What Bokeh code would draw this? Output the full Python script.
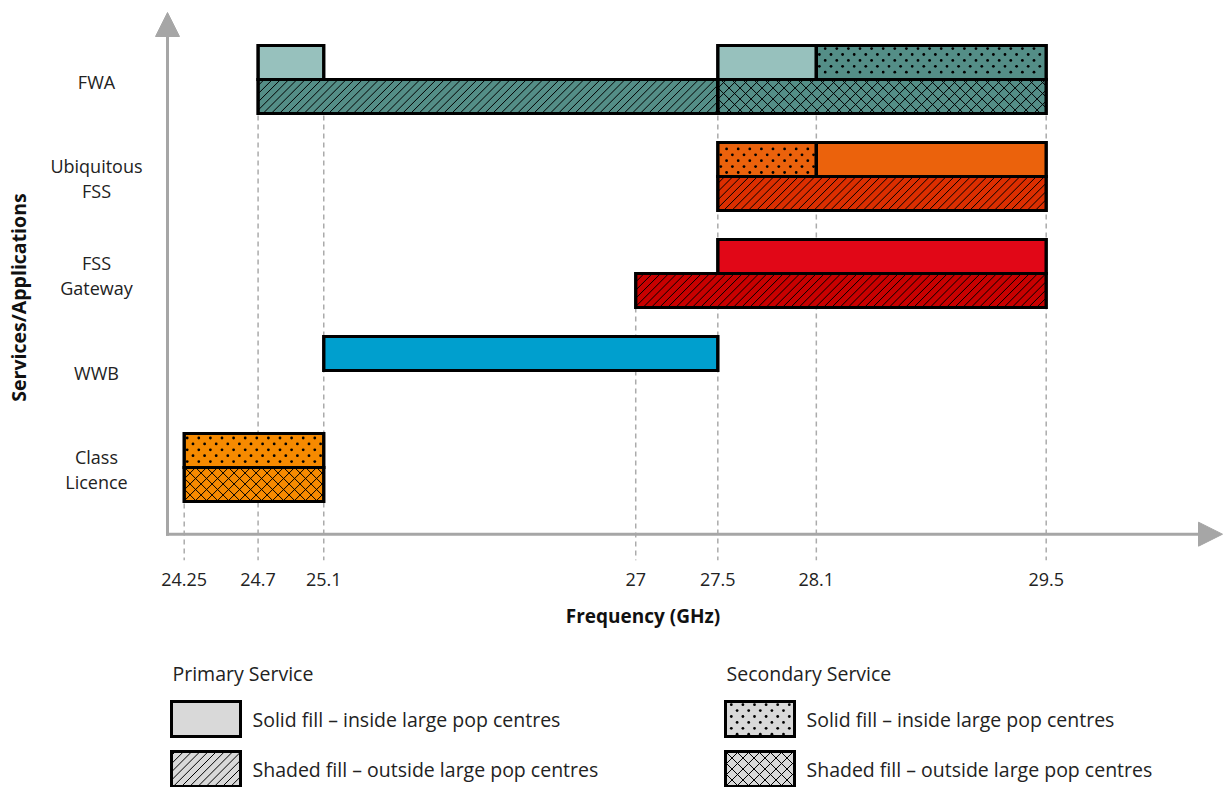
import math
from bokeh.plotting import figure
from bokeh.models import (Range1d, FixedTicker, CustomJSTickFormatter, Arrow, NormalHead,
                          ColumnDataSource)
from bokeh.layouts import column
from bokeh.embed import file_html
from bokeh.resources import INLINE
from bokeh.core.properties import value

# ---------------- data ----------------
services = ["Class\nLicence", "WWB", "FSS\nGateway", "Ubiquitous\nFSS", "FWA"]  # bottom -> top
freq_ticks = [24.25, 24.7, 25.1, 27, 27.5, 28.1, 29.5]

bar_service = ["FWA", "FWA", "FWA", "FWA", "FWA",
               "Ubiquitous\nFSS", "Ubiquitous\nFSS", "Ubiquitous\nFSS",
               "FSS\nGateway", "FSS\nGateway",
               "WWB",
               "Class\nLicence", "Class\nLicence"]
bar_start = [24.7, 27.5, 28.1, 24.7, 27.5,
             27.5, 28.1, 27.5,
             27.5, 27.0,
             25.1,
             24.25, 24.25]
bar_end = [25.1, 28.1, 29.5, 27.5, 29.5,
           28.1, 29.5, 29.5,
           29.5, 29.5,
           27.5,
           25.1, 25.1]
bar_type = ["Primary", "Primary", "Secondary", "Primary", "Secondary",
            "Secondary", "Primary", "Primary",
            "Primary", "Primary",
            "Primary",
            "Secondary", "Secondary"]
bar_area = ["inside", "inside", "inside", "outside", "outside",
            "inside", "inside", "outside",
            "inside", "outside",
            "inside",
            "inside", "outside"]
bar_color = ["#97C1BD", "#97C1BD", "#548E87", "#548E87", "#548E87",
             "#EB620C", "#EB620C", "#DC2E00",
             "#E10717", "#C80000",
             "#009FCE",
             "#F68A00", "#F68A00"]

x_title = "Frequency (GHz)"
y_title = "Services/Applications"
legend_titles = ["Primary Service", "Secondary Service"]
legend_labels = ["Solid fill \u2013 inside large pop centres",
                 "Shaded fill \u2013 outside large pop centres"]

# ---------------- styling / layout ----------------
FONT = value("Open Sans")
TXT = "#222222"
AXC = "#A6A6A6"
PX_PER_GHZ = 164.19
X0_PX = 183.7
X_START = 24.25 - X0_PX / PX_PER_GHZ
X_END = X_START + 1223 / PX_PER_GHZ
ROW_PX = 97.0
ROW0_PX = 467.0
FRAME_H = 560
TOP_H = 598
Y_END = ROW0_PX / ROW_PX
Y_START = (ROW0_PX - FRAME_H) / ROW_PX
BAR_H = 34 / ROW_PX

# fill style per (service type, area): hatch kind
HATCH = {("Primary", "inside"): None,
         ("Secondary", "inside"): "dots",
         ("Primary", "outside"): "diag",
         ("Secondary", "outside"): "cross"}
DIAG_STEP = 8.2     # px between "/" lines (horizontal)
CROSS_STEP = 11.0   # px between cross-hatch lines (horizontal)
DOT_DX, DOT_DY = 11.6, 5.9


def px2x(px):
    return X_START + px / PX_PER_GHZ


def hatch_lines(l, r, b, t, kind, sx, sy):
    """45-degree hatch lines clipped to a rectangle, computed in screen-pixel space."""
    X0, X1 = sorted((l * sx, r * sx))
    Ya, Yb = sorted((b * sy, t * sy))
    step = DIAG_STEP if kind == "diag" else CROSS_STEP
    dirs = [1] if kind == "diag" else [1, -1]
    out = []
    for d in dirs:
        cs = [X0 + d * Ya, X0 + d * Yb, X1 + d * Ya, X1 + d * Yb]
        for k in range(math.ceil(min(cs) / step), math.floor(max(cs) / step) + 1):
            c = k * step
            ylo, yhi = sorted((d * (c - X1), d * (c - X0)))
            ys, ye = max(Ya, ylo), min(Yb, yhi)
            if ye - ys > 0.4:
                out.append(((c - d * ys) / sx, ys / sy, (c - d * ye) / sx, ye / sy))
    return out


def dot_points(l, r, b, t, sx, sy):
    X0, X1 = sorted((l * sx, r * sx))
    Ya, Yb = sorted((b * sy, t * sy))
    pts = []
    for j in range(math.ceil((Ya + 2) / DOT_DY), math.floor((Yb - 2) / DOT_DY) + 1):
        off = (j % 2) * DOT_DX / 2
        for i in range(math.ceil((X0 + 2 - off) / DOT_DX), math.floor((X1 - 2 - off) / DOT_DX) + 1):
            pts.append(((i * DOT_DX + off) / sx, (j * DOT_DY) / sy))
    return pts


def draw_hatched(fig, lefts, rights, bottoms_, tops_, colors, kinds, sx, sy):
    fig.quad(left=lefts, right=rights, bottom=bottoms_, top=tops_, fill_color=colors,
             line_color="black", line_width=3, line_join="miter")
    segs, dots = [], []
    for l, r, b, t, k in zip(lefts, rights, bottoms_, tops_, kinds):
        if k in ("diag", "cross"):
            segs += hatch_lines(l, r, b, t, k, sx, sy)
        elif k == "dots":
            dots += dot_points(l, r, b, t, sx, sy)
    if segs:
        fig.segment(x0=[s[0] for s in segs], y0=[s[1] for s in segs],
                    x1=[s[2] for s in segs], y1=[s[3] for s in segs],
                    line_color="black", line_width=1)
    if dots:
        fig.scatter(x=[q[0] for q in dots], y=[q[1] for q in dots], marker="circle",
                    size=2.8, fill_color="black", line_color=None)
    # re-stroke outlines on top
    fig.quad(left=lefts, right=rights, bottom=bottoms_, top=tops_, fill_color=None,
             line_color="black", line_width=3, line_join="miter")


p = figure(width=1223, height=TOP_H, x_range=Range1d(X_START, X_END),
           y_range=Range1d(Y_START, Y_END), output_backend="svg",
           toolbar_location=None, y_axis_location=None,
           min_border_left=0, min_border_right=0, min_border_top=0,
           min_border_bottom=TOP_H - FRAME_H)
p.outline_line_color = None
p.grid.visible = False
p.background_fill_color = "white"

# bar geometry
rows = [services.index(s) for s in bar_service]
bottoms = [r if a == "inside" else r - BAR_H for r, a in zip(rows, bar_area)]
tops = [r + BAR_H if a == "inside" else r for r, a in zip(rows, bar_area)]
kinds = [HATCH[(t, a)] for t, a in zip(bar_type, bar_area)]

# dashed guide lines
guide_top = []
for f in freq_ticks:
    c = [b for s, e, b in zip(bar_start, bar_end, bottoms)
         if abs(s - f) < 1e-9 or abs(e - f) < 1e-9]
    guide_top.append(max(c))
p.segment(x0=freq_ticks, y0=guide_top, x1=freq_ticks,
          y1=[Y_START] * len(freq_ticks), line_color="#ABABAB",
          line_width=1.5, line_dash="5 4")

# axes arrows
X_AX = px2x(167)
Y_AX = (ROW0_PX - 533.7) / ROW_PX
p.add_layout(Arrow(end=NormalHead(size=24, fill_color=AXC, line_color=AXC, line_width=1),
                   x_start=X_AX - 1.5 / PX_PER_GHZ, y_start=Y_AX,
                   x_end=px2x(1222), y_end=Y_AX,
                   line_color=AXC, line_width=3))
p.add_layout(Arrow(end=NormalHead(size=24, fill_color=AXC, line_color=AXC, line_width=1),
                   x_start=X_AX, y_start=Y_AX - 1.5 / ROW_PX,
                   x_end=X_AX, y_end=(ROW0_PX - 12) / ROW_PX,
                   line_color=AXC, line_width=3))

# bars
draw_hatched(p, bar_start, bar_end, bottoms, tops, bar_color, kinds,
             PX_PER_GHZ, -ROW_PX)

# category labels
p.text(x=[X_START] * len(services), y=list(range(len(services))), text=services,
       x_offset=96, y_offset=2, text_align="center", text_baseline="middle",
       text_font=FONT, text_font_size="18px", text_color=TXT,
       text_line_height=1.04)
p.text(x=[X_START], y=[(ROW0_PX - 297) / ROW_PX], text=[y_title],
       x_offset=18, angle=math.pi / 2, text_align="center",
       text_baseline="middle", text_font=FONT, text_font_size="19.5px",
       text_font_style="bold", text_color="#111111")

# x axis
ax = p.xaxis[0]
ax.ticker = FixedTicker(ticks=freq_ticks, minor_ticks=[])
ax.formatter = CustomJSTickFormatter(code="return tick.toString();")
ax.axis_line_color = None
ax.major_tick_line_color = None
ax.minor_tick_line_color = None
ax.major_tick_out = 0
ax.major_tick_in = 0
ax.major_label_standoff = 12
ax.major_label_text_font = "Open Sans"
ax.major_label_text_font_size = "18px"
ax.major_label_text_color = TXT

# ---------------- lower panel: x title + legend ----------------
LG_H = 787 - TOP_H
lg = figure(width=1223, height=LG_H, x_range=Range1d(0, 1223), y_range=Range1d(LG_H, 0),
            output_backend="svg", toolbar_location=None,
            x_axis_location=None, y_axis_location=None,
            min_border_left=0, min_border_right=0, min_border_top=0, min_border_bottom=0)
lg.outline_line_color = None
lg.grid.visible = False

lg.text(x=[642.5], y=[615 - TOP_H], text=[x_title], text_align="center",
        text_baseline="middle", text_font=FONT, text_font_size="19px",
        text_font_style="bold", text_color="#111111")

group_left = [171, 725]
header_y = 673 - TOP_H
box_top = [701 - TOP_H, 751 - TOP_H]
box_w, box_h = 69, 35
types = ["Primary", "Secondary"]
areas = ["inside", "outside"]

lg.text(x=[g + 1 for g in group_left], y=[header_y] * 2, text=legend_titles,
        text_align="left", text_baseline="middle", text_font=FONT,
        text_font_size="19.5px", text_color=TXT)
L, R, B, T, K = [], [], [], [], []
for gi, t in enumerate(types):
    for ai, a in enumerate(areas):
        L.append(group_left[gi]); R.append(group_left[gi] + box_w)
        T.append(box_top[ai]); B.append(box_top[ai] + box_h)
        K.append(HATCH[(t, a)])
    lg.text(x=[group_left[gi] + 81] * 2, y=[t_ + box_h / 2 for t_ in box_top],
            text=legend_labels, text_align="left", text_baseline="middle",
            text_font=FONT, text_font_size="19.5px", text_color=TXT)
draw_hatched(lg, L, R, B, T, ["#D9D9D9"] * 4, K, 1.0, 1.0)

layout = column(p, lg, spacing=0)
open("out.html", "w").write(file_html(layout, INLINE))
